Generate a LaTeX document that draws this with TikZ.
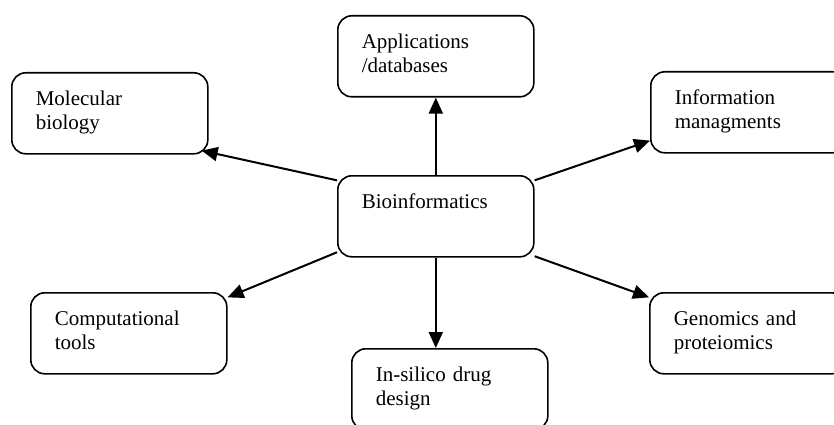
\documentclass[tikz,border=0pt]{standalone}
\usepackage{fontspec}
\setmainfont{Liberation Serif}
\usetikzlibrary{arrows.meta,calc}
\tikzset{
	topic/.style={draw, line width=1.6pt, rounded corners=14pt, anchor=north west,
		text width=148pt, inner xsep=24pt, inner ysep=8pt, text height=25pt, text depth=40pt,
		align=left, font=\fontsize{21}{24}\selectfont},
	link/.style={line width=2pt, -{Triangle[length=16pt,width=14pt]}}
}
\begin{document}
\begin{tikzpicture}[x=1pt,y=-1pt]
	\clip (0,0) rectangle (834,425);
	\node[topic] (apps) at (337,15) {Applications\\/databases};
	\node[topic] (bio) at (337,175) {Bioinformatics};
	\node[topic] (mol) at (11,72) {Molecular\\biology};
	\node[topic] (info) at (650,71) {Information\\managments};
	\node[topic] (comp) at (30,292) {Computational\\tools};
	\node[topic] (gen) at (649,292) {Genomics and\\proteiomics};
	\node[topic] (drug) at (351,348) {In-silico drug\\design};
	\draw[link] (bio.north) -- (apps.south);
	\draw[link] (bio.south) -- (bio.south |- drug.north);
	\draw[link] (bio.160) -- ($(mol.south east)+(-7,-4)$);
	\draw[link] (bio.20) -- (info.196);
	\draw[link] (bio.200) -- (comp.20);
	\draw[link] (bio.-22) -- (gen.160);
\end{tikzpicture}
\end{document}
